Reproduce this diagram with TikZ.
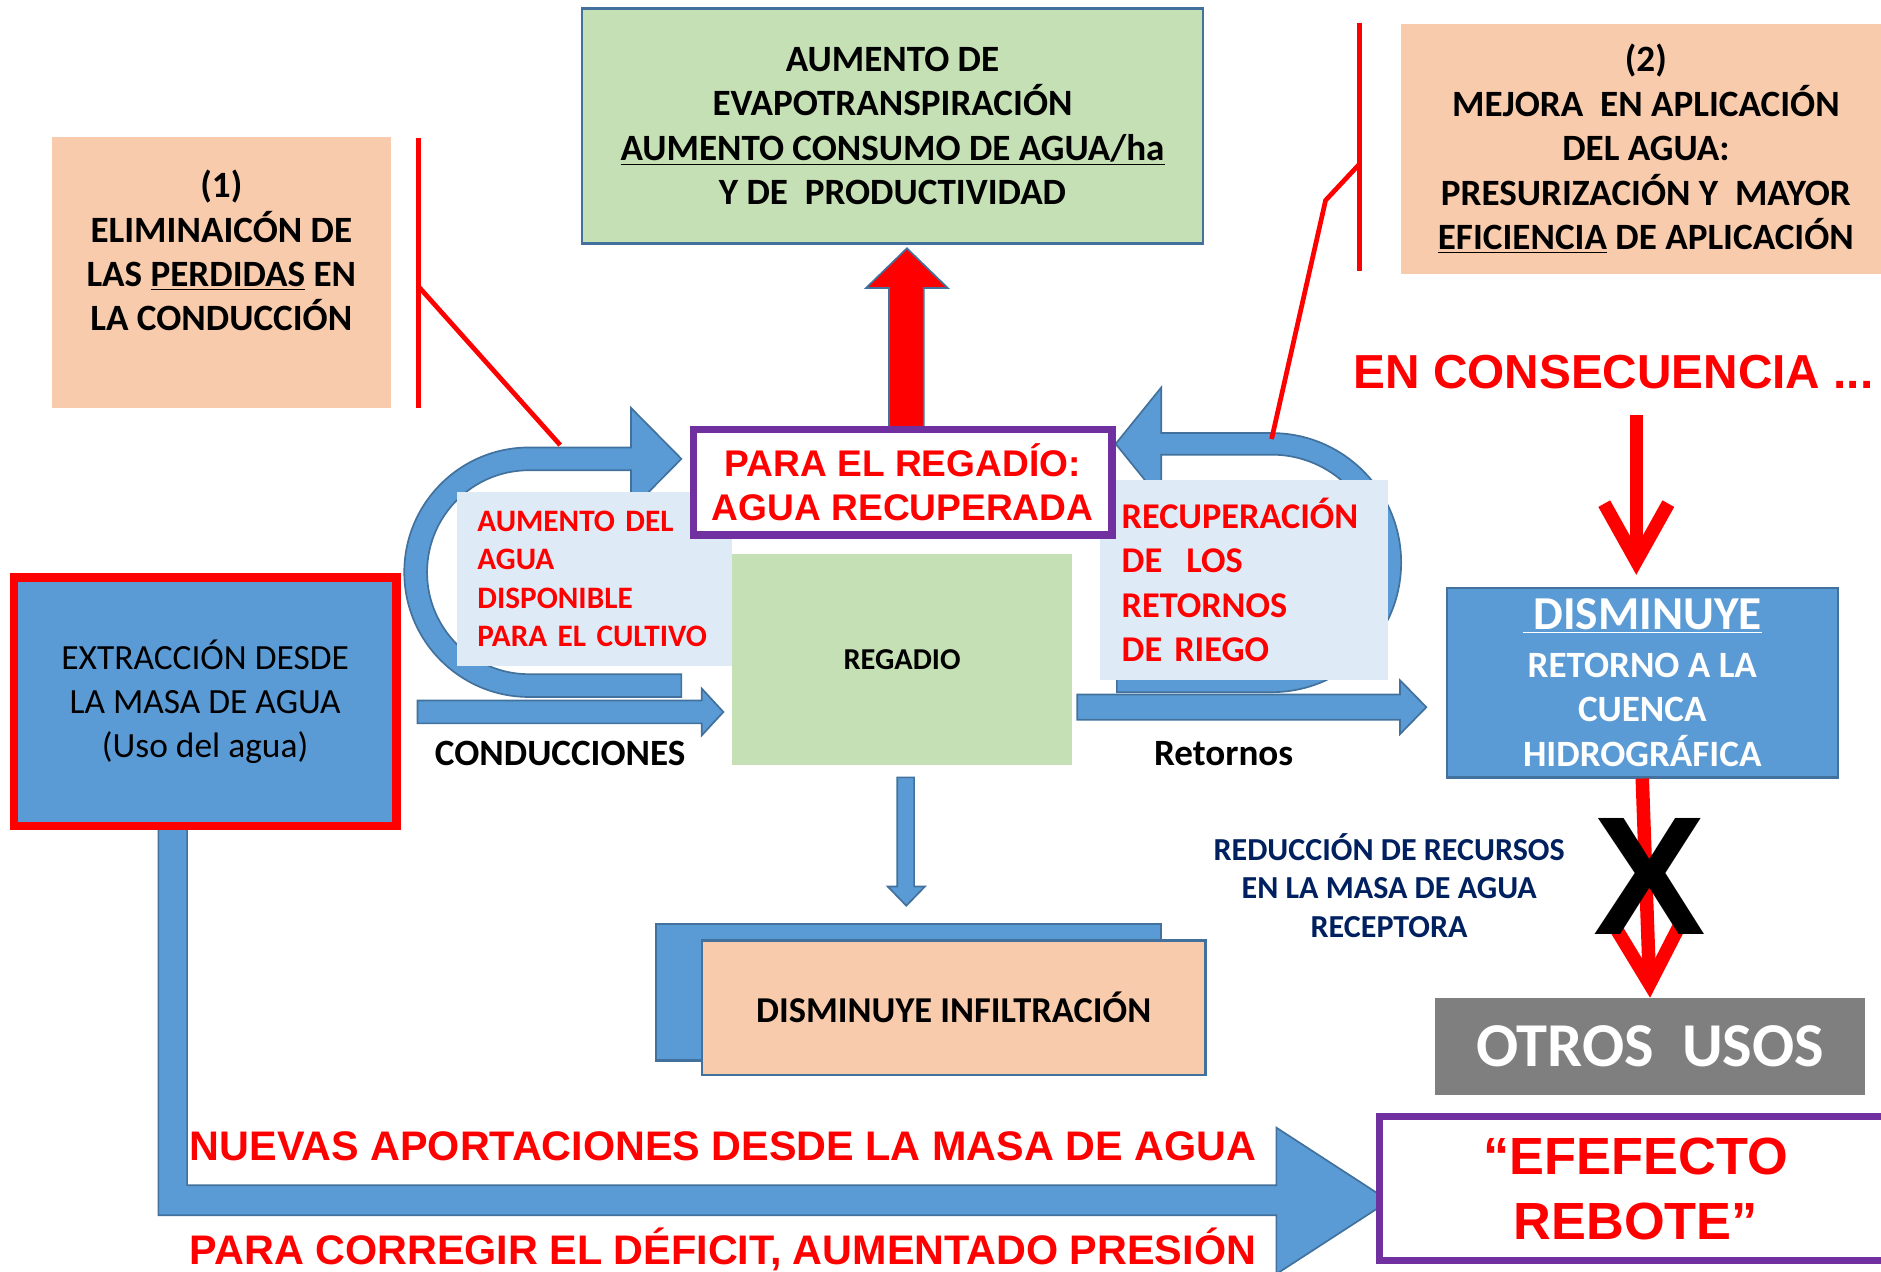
\documentclass[tikz,border=0pt]{standalone}
\usepackage{fontspec}
\setmainfont{Carlito}
\newfontfamily\arialfont{Liberation Sans}
\usetikzlibrary{positioning}
\usetikzlibrary{calc}
\usetikzlibrary{arrows.meta}

\begin{document}
\begin{tikzpicture}[x=0.025cm, y=-0.025cm]
    \definecolor{water}{HTML}{5B9BD5}
\definecolor{edge}{HTML}{41719C}
\definecolor{peach}{HTML}{F8CBAD}
\definecolor{crop}{HTML}{C5E0B4}
\definecolor{note}{HTML}{DEEBF7}
\definecolor{frame}{HTML}{7030A0}
\definecolor{alarm}{HTML}{FF0000}
\definecolor{navy}{HTML}{002060}
\definecolor{slate}{HTML}{7F7F7F}

\newcommand\dpx{0.025cm}

\tikzset{
    block arrow/.style={fill=water, draw=edge, line width=1pt, line join=miter},
    panel text/.style={
        align=center, inner sep=0pt,
        font={\bfseries\fontsize{22}{26.3}\selectfont},
    },
    green panel/.style={
        panel text, rectangle, fill=crop, draw=edge, line width=1.4pt,
    },
    peach panel/.style={rectangle, fill=peach, inner sep=0pt},
    blue panel/.style={rectangle, fill=water, draw=edge, line width=1.4pt, inner sep=0pt},
    note panel/.style={
        rectangle, fill=note, align=left, text=alarm, inner ysep=0pt,
    },
    purple frame/.style={
        rectangle, fill=white, draw=frame, line width=4.3pt,
        align=center, text=alarm, inner sep=0pt,
    },
    flow label/.style={font={\bfseries\fontsize{22}{26}\selectfont}, inner sep=0pt},
    red callout/.style={alarm, line width=2.8pt},
    red pointer/.style={
        alarm, line width=8pt,
        -{Straight Barb[length=34pt 0, width=38pt 0]},
    },
    red banner/.style={
        text=alarm, inner sep=0pt,
        font={\arialfont\bfseries\fontsize{24.5}{28}\selectfont},
    },
}

\useasboundingbox (0,0) rectangle (1568,1060);
\clip (0,0) rectangle (1568,1060);

% supply from the water body
\draw[block arrow] (132,690) -- (132,1013) -- (1064,1013) -- (1064,1062)
    -- (1158,1001) -- (1064,940) -- (1064,988) -- (156,988) -- (156,690) -- cycle;
\node[blue panel, draw=alarm, line width=5pt, align=center,
    font={\fontsize{21}{26.3}\selectfont},
    minimum width={319*\dpx}, minimum height={207*\dpx}]
    (extraction) at (171, 585) {EXTRACCIÓN DESDE\\LA MASA DE AGUA\\(Uso del agua)};

% recovery loops
\draw[block arrow] (568,581) -- (441,581) arc[start angle=90, end angle=270, radius=104]
    -- (526,373) -- (526,340) -- (568,382.5) -- (526,425) -- (526,392) -- (441,392)
    arc[start angle=270, end angle=90, radius=85] -- (568,562) -- cycle;
\draw[block arrow] (931,577) -- (1060,577) arc[start angle=90, end angle=-90, radius=108]
    -- (968,361) -- (968,323) -- (930,370) -- (968,417) -- (968,379) -- (1060,379)
    arc[start angle=-90, end angle=90, radius=90] -- (931,559) -- cycle;

% evapotranspiration
\draw[block arrow, fill=alarm] (741,355) -- (741,240) -- (722,240) -- (756,207)
    -- (790,240) -- (770,240) -- (770,355);
\node[green panel, minimum width={518*\dpx}, minimum height={196*\dpx}]
    (evapo) at (744, 105)
    {AUMENTO DE\\EVAPOTRANSPIRACIÓN\\\underline{AUMENTO CONSUMO DE AGUA/ha}\\Y DE~ PRODUCTIVIDAD};

% improvements (1) and (2)
\node[peach panel, minimum width={283*\dpx}, minimum height={226*\dpx}] (losses) at (184.5, 227) {};
\node[panel text] (losses text) at (184.5, 209)
    {(1)\\ELIMINAICÓN DE\\LAS \underline{PERDIDAS} EN\\LA CONDUCCIÓN};
\node[peach panel, minimum width={400*\dpx}, minimum height={208*\dpx}] (application) at (1368, 124) {};
\node[panel text] (application text) at (1372, 124)
    {(2)\\MEJORA~ EN APLICACIÓN\\DEL AGUA:\\PRESURIZACIÓN Y~ MAYOR\\\underline{EFICIENCIA} DE APLICACIÓN};

\coordinate (losses top) at (349,115);
\coordinate (losses bottom) at (349,340);
\coordinate (losses knee) at (349,239);
\coordinate (losses tip) at (467,371);
\draw[red callout] (losses top) -- (losses bottom);
\draw[red callout] (losses knee) -- (losses tip);
\coordinate (application top) at (1133,19);
\coordinate (application bottom) at (1133,226);
\coordinate (application knee) at (1133,137);
\coordinate (application tip) at (1060,366);
\draw[red callout] (application top) -- (application bottom);
\draw[red callout] (application knee) -- (1105,167) -- (application tip);

% notes on the loops
\node[note panel, text width={195*\dpx}, inner xsep={17*\dpx}, minimum height={145*\dpx},
    font={\bfseries\fontsize{18.5}{22.7}\selectfont}]
    (available) at (495.5, 482.5) {AUMENTO DEL\\AGUA\\DISPONIBLE\\PARA EL CULTIVO};
\node[note panel, text width={204*\dpx}, inner xsep={18*\dpx}, minimum height={167*\dpx},
    font={\bfseries\fontsize{21.5}{26.3}\selectfont}]
    (returns) at (1037, 483.5) {RECUPERACIÓN\\DE~ LOS\\RETORNOS\\DE RIEGO};

\node[rectangle, fill=crop, inner sep=0pt, font={\bfseries\fontsize{18}{22}\selectfont},
    minimum width={284*\dpx}, minimum height={176*\dpx}] (field) at (752, 550) {REGADIO};

\node[purple frame, minimum width={349*\dpx}, minimum height={88*\dpx},
    font={\arialfont\bfseries\fontsize{22}{25.6}\selectfont}]
    (recovered) at (752.5, 402) {PARA EL REGADÍO:\\AGUA RECUPERADA};

% conduits and returns
\draw[block arrow] (348,584) -- (585,584) -- (585,574) -- (603,593.5) -- (585,613)
    -- (585,603) -- (348,603) -- cycle;
\draw[block arrow] (898,579) -- (1167,579) -- (1167,567) -- (1189,589.5) -- (1167,612)
    -- (1167,600) -- (898,600) -- cycle;
\node[flow label] (conduits label) at (467, 628) {CONDUCCIONES};
\node[flow label] (returns label) at (1020, 628) {Retornos};

% infiltration
\draw[block arrow] (748,648) -- (748,739) -- (740,739) -- (755.5,755) -- (771,739)
    -- (762,739) -- (762,648) -- cycle;
\node[blue panel, minimum width={421*\dpx}, minimum height={114*\dpx}]
    (infiltration back) at (757.5, 827) {};
\node[peach panel, draw=edge, line width=1.4pt, font={\bfseries\fontsize{21.6}{25}\selectfont},
    minimum width={420*\dpx}, minimum height={112*\dpx}]
    (infiltration) at (795, 840) {DISMINUYE INFILTRACIÓN};

% consequence
\node[text=alarm, inner sep=0pt, font={\arialfont\bfseries\fontsize{28.3}{32}\selectfont}]
    (consequence) at (1345, 310) {EN CONSECUENCIA ...};
\node[blue panel, text=white, align=center, font={\bfseries\fontsize{22}{26.3}\selectfont},
    minimum width={326*\dpx}, minimum height={158*\dpx}]
    (basin) at (1369, 569)
    {{\fontsize{28}{30}\selectfont\underline{\ DISMINUYE}}\\[2pt]RETORNO A LA\\CUENCA\\HIDROGRÁFICA};
\node[rectangle, fill=slate, text=white, inner sep=0pt,
    font={\bfseries\fontsize{37}{40}\selectfont},
    minimum width={359*\dpx}, minimum height={81*\dpx}]
    (other uses) at (1375.5, 872.5) {\raisebox{-3pt}{OTROS~~USOS}};

\coordinate (consequence foot) at (1364,346);
\draw[red pointer, shorten >=7pt] (consequence foot) -- (consequence foot |- basin.north);
\draw[red pointer] (basin.south) -- (other uses.north);
\node[inner sep=0pt, font={\arialfont\bfseries\fontsize{100}{100}\selectfont}]
    (cross) at (1375, 731) {X};
\node[text=navy, align=center, inner sep=0pt, font={\bfseries\fontsize{19}{22.8}\selectfont}]
    (reduction) at (1158, 738) {REDUCCIÓN DE RECURSOS\\EN LA MASA DE AGUA\\RECEPTORA};

\node[purple frame, minimum width={427*\dpx}, minimum height={120*\dpx},
    font={\arialfont\bfseries\fontsize{31}{38.4}\selectfont}]
    (rebound) at (1363.5, 991) {“EFEFECTO\\REBOTE”};

\node[red banner, anchor=base west] (new supply) at (158, 967)
    {NUEVAS APORTACIONES DESDE LA MASA DE AGUA};
\node[red banner, anchor=base west] (correction) at (158, 1054)
    {PARA CORREGIR EL DÉFICIT, AUMENTADO PRESIÓN};
\end{tikzpicture}
\end{document}
